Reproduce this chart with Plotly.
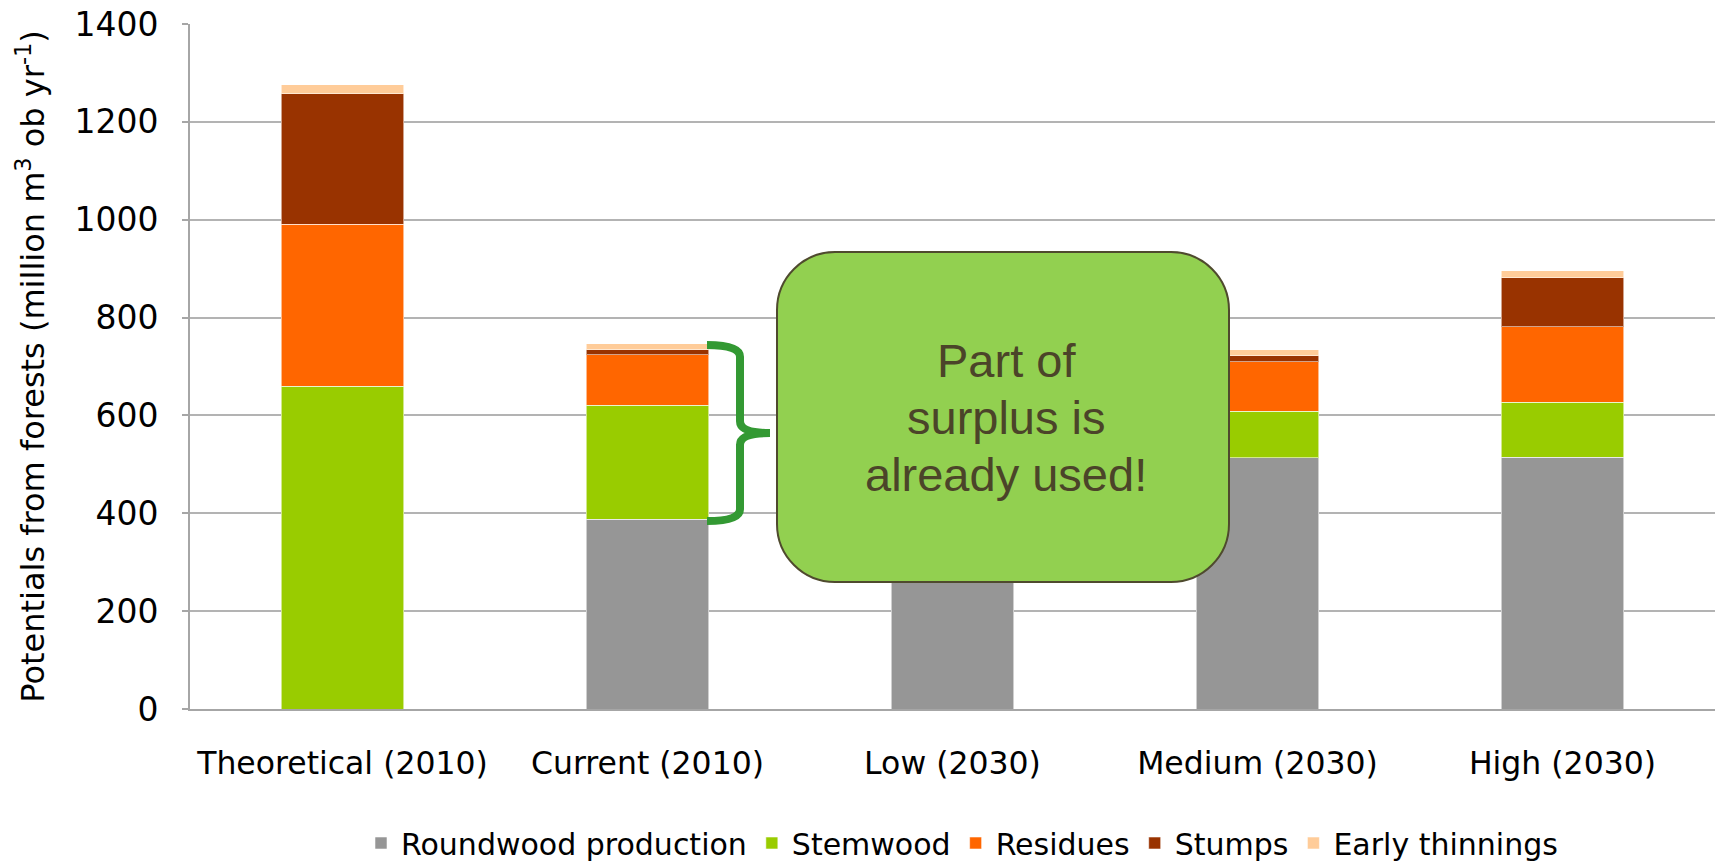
import plotly.graph_objects as go

# Scenario categories
scenarios = ["Theoretical (2010)", "Current (2010)", "Low (2030)", "Medium (2030)", "High (2030)"]

# Potentials by source, million m3 ob per year
roundwood = [0, 388, 455, 514, 515]
stemwood = [660, 233, 70, 95, 112]
residues = [331, 103, 95, 101, 154]
stumps = [266, 10, 10, 12, 100]
early_thinnings = [19, 12, 12, 12, 15]

series_names = ["Roundwood production", "Stemwood", "Residues", "Stumps", "Early thinnings"]
series_values = [roundwood, stemwood, residues, stumps, early_thinnings]
series_colors = ["#969696", "#99CC00", "#FF6600", "#993300", "#FFCC99"]

y_ticks = [0, 200, 400, 600, 800, 1000, 1200, 1400]

callout_lines = ["Part of", "surplus is", "already used!"]

CHART_FONT = "DejaVu Sans"

fig = go.Figure()
for name, vals, col in zip(series_names, series_values, series_colors):
    fig.add_trace(go.Bar(
        x=scenarios, y=vals, name=name,
        marker=dict(color=col, line=dict(color="rgba(255,255,255,0.55)", width=1)),
    ))

# plot-area geometry in pixels (used to place the overlay decorations)
W, H = 1721, 863
L, R, T, B = 190, 6, 24, 154
plot_w = W - L - R
plot_h = H - T - B


def px_x(x):
    return (x - L) / plot_w


def px_y(y):
    return (H - B - y) / plot_h


# brace spanning the Current (2010) surplus above roundwood production
cur = 1
y_top = sum(v[cur] for v in series_values) - 2
y_bot = roundwood[cur] - 4
y_mid = (y_top + y_bot) / 2
r = 24
xb, xv, xt = px_x(707), px_x(740), px_x(770)
brace = (
    f"M {xb},{y_top} Q {xv},{y_top} {xv},{y_top - r} "
    f"L {xv},{y_mid + r} Q {xv},{y_mid} {xt},{y_mid} "
    f"Q {xv},{y_mid} {xv},{y_mid - r} "
    f"L {xv},{y_bot + r} Q {xv},{y_bot} {xb},{y_bot}"
)
fig.add_shape(type="path", path=brace, xref="paper", yref="y",
              line=dict(color="#339933", width=8), layer="above")

# rounded callout box
x0, x1 = px_x(777), px_x(1229)
y0, y1 = px_y(582), px_y(252)
rad = 58
rx, ry = rad / plot_w, rad / plot_h
k = 0.5523
box = (
    f"M {x0 + rx},{y1} L {x1 - rx},{y1} "
    f"C {x1 - rx + k * rx},{y1} {x1},{y1 - ry + k * ry} {x1},{y1 - ry} "
    f"L {x1},{y0 + ry} "
    f"C {x1},{y0 + ry - k * ry} {x1 - rx + k * rx},{y0} {x1 - rx},{y0} "
    f"L {x0 + rx},{y0} "
    f"C {x0 + rx - k * rx},{y0} {x0},{y0 + ry - k * ry} {x0},{y0 + ry} "
    f"L {x0},{y1 - ry} "
    f"C {x0},{y1 - ry + k * ry} {x0 + rx - k * rx},{y1} {x0 + rx},{y1} Z"
)
fig.add_shape(type="path", path=box, xref="paper", yref="paper",
              fillcolor="#92D050", line=dict(color="#4F4A2E", width=2), layer="above")

# callout text, one line per annotation for tighter line spacing
for i, line in enumerate(callout_lines):
    fig.add_annotation(
        text=line, xref="paper", yref="paper",
        x=px_x(1006), y=px_y(360 + 57 * i), xanchor="center", yanchor="middle",
        showarrow=False, align="center",
        font=dict(family="Liberation Sans, Arial", size=47, color="#4B4429"),
    )

fig.update_layout(
    width=W, height=H,
    margin=dict(l=L, r=R, t=T, b=B, autoexpand=False),
    barmode="stack", bargap=0.597,
    plot_bgcolor="white", paper_bgcolor="white",
    font=dict(family=CHART_FONT, color="black"),
    showlegend=True,
    legend=dict(
        orientation="h", x=px_x(962), y=px_y(843), xanchor="center", yanchor="middle",
        font=dict(family=CHART_FONT, size=30, color="black"),
        traceorder="normal", itemclick=False,
    ),
)

fig.update_xaxes(
    showgrid=False, showline=True, linecolor="#A6A6A6", linewidth=2,
    ticks="", tickfont=dict(family=CHART_FONT, size=31.5, color="black"),
    ticklabelstandoff=25, automargin=False,
)
fig.update_yaxes(
    range=[0, 1400], tickvals=y_ticks, showgrid=True, gridcolor="#B3B3B3", gridwidth=1.5,
    showline=True, linecolor="#A6A6A6", linewidth=2,
    ticks="outside", ticklen=6, tickcolor="#A6A6A6", tickwidth=1.5,
    tickfont=dict(family=CHART_FONT, size=33, color="black"),
    ticklabelstandoff=17, zeroline=False, automargin=False,
    title=dict(text="Potentials from forests (million m<sup>3</sup> ob yr<sup>-1</sup>)",
               font=dict(family=CHART_FONT, size=32, color="black"), standoff=20),
)

fig.write_html("out.html")
